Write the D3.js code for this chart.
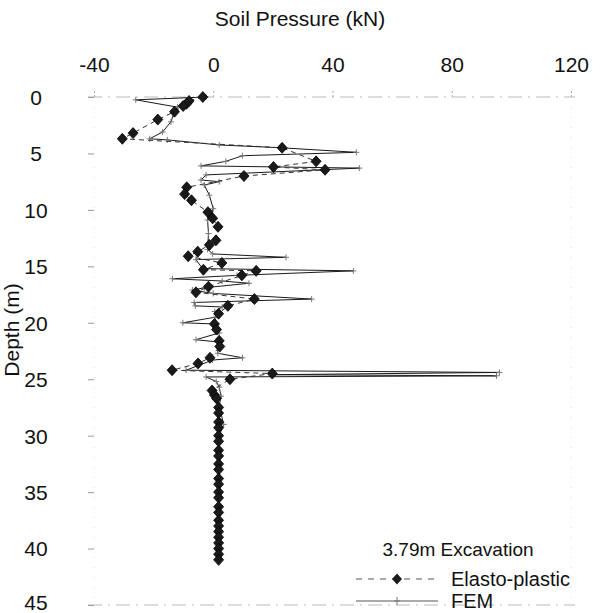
<!DOCTYPE html>
<html>
<head>
<meta charset="utf-8">
<script src="https://cdn.jsdelivr.net/npm/d3@7"></script>
<style>
  body { margin: 0; background: #fff; }
  text { font-family: "Liberation Sans", Arial, sans-serif; fill: #111; }
</style>
</head>
<body>
<div id="chart"></div>
<script>
// x ticks / y ticks
var pressureTicks = [-40, 0, 40, 80, 120];
var depthTicks = [0, 5, 10, 15, 20, 25, 30, 35, 40, 45];

// Elasto-plastic: depth (m) and soil pressure (kN)
var epDepth = [0.0, 0.35, 0.6, 0.8, 1.3, 2.0, 3.2, 3.7, 4.5, 5.7, 6.2, 6.45, 7.0, 8.0, 8.6, 9.15, 10.2, 10.75, 11.5, 12.7, 13.1, 13.7, 14.1, 14.7, 15.3, 15.4, 15.8, 16.8, 17.3, 17.9, 18.5, 19.2, 20.1, 20.6, 21.6, 22.1, 23.1, 23.6, 24.2, 24.5, 25.0, 26.0, 26.4, 26.7, 27.5, 28.0, 28.8, 29.3, 30.0, 30.5, 31.3, 31.8, 32.5, 33.0, 33.8, 34.3, 35.0, 35.5, 36.3, 36.8, 37.5, 38.0, 38.5, 39.0, 39.5, 40.0, 40.5, 41.0];
var epValue = [-3.5, -8.1, -9.0, -10.1, -13.0, -18.6, -26.9, -30.5, 23.1, 34.5, 20.2, 37.5, 10.3, -8.9, -9.6, -7.3, -1.8, -0.2, 1.6, 0.9, -1.3, -5.2, -8.4, 2.9, -3.3, 14.4, 9.6, -1.6, -5.8, 13.8, 4.9, 1.8, 0.4, 1.1, 2.0, 2.2, -1.1, -5.1, -13.8, 19.8, 5.6, -0.4, 0.4, 1.1, 1.8, 1.8, 1.8, 1.8, 1.8, 1.8, 1.8, 1.8, 1.8, 1.8, 1.8, 1.8, 1.8, 1.8, 1.8, 1.8, 1.8, 1.8, 1.8, 1.8, 1.8, 1.8, 1.8, 1.8];

// FEM: depth (m) and soil pressure (kN)
var femDepth = [0.0, 0.25, 0.9, 1.3, 2.2, 3.1, 3.7, 3.8, 4.25, 4.5, 4.9, 5.2, 5.7, 6.1, 6.3, 6.9, 7.35, 7.5, 7.8, 8.7, 9.9, 10.9, 12.1, 13.5, 13.9, 14.2, 14.4, 15.2, 15.4, 15.8, 16.1, 16.3, 16.5, 16.9, 17.1, 17.4, 17.9, 18.2, 18.5, 18.6, 19.0, 19.5, 20.0, 20.1, 20.9, 21.5, 21.7, 22.7, 23.1, 23.3, 24.2, 24.4, 24.6, 24.7, 24.8, 25.2, 25.7, 26.5, 27.4, 29.0, 30.0, 35.0, 41.0];
var femValue = [-2.5, -26.0, -12.0, -13.0, -14.2, -17.0, -21.3, -15.4, 2.0, 23.0, 48.0, 9.8, 4.2, -4.1, 49.0, -2.4, -4.1, 2.0, -3.0, -1.3, 0.0, -1.9, -1.6, -1.9, -0.2, 24.4, -5.8, -3.6, 47.0, 8.0, -13.7, 3.0, 12.0, -3.0, -7.0, 0.0, 33.0, -6.4, -6.0, 3.0, 0.5, 0.8, -10.2, 0.0, 2.0, -5.8, 1.5, 1.5, 9.8, -0.2, -9.1, 96.0, 20.0, 95.0, -2.4, 1.0, 2.0, 2.6, 2.0, 3.5, 2.0, 2.0, 2.0];

var legendTitle = "3.79m Excavation";
var seriesNames = ["Elasto-plastic", "FEM"];

var W = 604, H = 613;
var FONT = '"Liberation Sans", Arial, sans-serif';
var svg = d3.select('#chart').append('svg')
    .attr('width', W)
    .attr('height', H);

var x = d3.scaleLinear().domain([-40, 120]).range([94, 571]);
var y = d3.scaleLinear().domain([0, 45]).range([97, 605]);

// faint frame (scanned look)
var frame = svg.append('g')
    .attr('stroke', '#bbb')
    .attr('stroke-width', 1)
    .attr('stroke-dasharray', '14,6,2,6')
    .attr('fill', 'none');
frame.append('line').attr('x1', 88).attr('x2', 575).attr('y1', y(0)).attr('y2', y(0));
frame.append('line').attr('x1', 88).attr('x2', 575).attr('y1', y(45)).attr('y2', y(45));
frame.append('line').attr('x1', x(-40)).attr('x2', x(-40)).attr('y1', y(0)).attr('y2', y(45))
    .attr('stroke', '#ddd').attr('stroke-dasharray', '1,9');
frame.append('line').attr('x1', x(120)).attr('x2', x(120)).attr('y1', y(0)).attr('y2', y(45))
    .attr('stroke', '#ddd').attr('stroke-dasharray', '1,9');

// top axis
var xAxis = d3.axisTop(x).tickValues(pressureTicks).tickSize(8).tickPadding(17)
    .tickFormat(function(d) { return String(d); });
var gx = svg.append('g').attr('transform', 'translate(0,' + y(0) + ')').call(xAxis);
gx.select('.domain').remove();
gx.selectAll('.tick line').attr('stroke', '#aaa').attr('stroke-dasharray', '2,2');
gx.selectAll('.tick text').attr('font-size', 21).style('font-family', FONT).attr('fill', '#111');

// left axis
var yAxis = d3.axisLeft(y).tickValues(depthTicks).tickSize(6).tickPadding(0)
    .tickFormat(function(d) { return String(d); });
var gy = svg.append('g').attr('transform', 'translate(' + x(-40) + ',0)').call(yAxis);
gy.select('.domain').remove();
gy.selectAll('.tick line').attr('stroke', '#999');
gy.selectAll('.tick text')
    .attr('font-size', 21)
    .attr('text-anchor', 'middle')
    .attr('x', 36 - x(-40))
    .attr('dy', function(d) { return d === 45 ? '0.2em' : '0.35em'; })
    .style('font-family', FONT)
    .attr('fill', '#111');

// axis titles
svg.append('text')
    .attr('x', 300).attr('y', 26)
    .attr('text-anchor', 'middle')
    .attr('font-size', 21)
    .text('Soil Pressure (kN)');
svg.append('text')
    .attr('transform', 'translate(19,330) rotate(-90)')
    .attr('text-anchor', 'middle')
    .attr('font-size', 21)
    .text('Depth (m)');

var fem = femDepth.map(function(d, i) { return {d: d, v: femValue[i]}; });
var ep = epDepth.map(function(d, i) { return {d: d, v: epValue[i]}; });

var line = d3.line()
    .x(function(p) { return x(p.v); })
    .y(function(p) { return y(p.d); });

// FEM
svg.append('path')
    .datum(fem)
    .attr('d', line)
    .attr('fill', 'none')
    .attr('stroke', '#1a1a1a')
    .attr('stroke-width', 1);

svg.append('g').selectAll('path').data(fem).enter().append('path')
    .attr('transform', function(p) { return 'translate(' + x(p.v) + ',' + y(p.d) + ')'; })
    .attr('d', 'M-3,0H3M0,-3V3')
    .attr('stroke', '#777')
    .attr('stroke-width', 1);

// Elasto-plastic
svg.append('path')
    .datum(ep)
    .attr('d', line)
    .attr('fill', 'none')
    .attr('stroke', '#333')
    .attr('stroke-width', 1)
    .attr('stroke-dasharray', '5,4');

var diamond = 'M0,-5.5L5,0L0,5.5L-5,0Z';
svg.append('g').selectAll('path').data(ep).enter().append('path')
    .attr('transform', function(p) { return 'translate(' + x(p.v) + ',' + y(p.d) + ')'; })
    .attr('d', diamond)
    .attr('fill', '#1a1a1a')
    .attr('stroke', '#000')
    .attr('stroke-width', 0.8);

// legend
var lg = svg.append('g');
lg.append('text')
    .attr('x', 458).attr('y', 556)
    .attr('text-anchor', 'middle')
    .attr('font-size', 19)
    .text(legendTitle);

lg.append('line')
    .attr('x1', 356).attr('x2', 438).attr('y1', 579).attr('y2', 579)
    .attr('stroke', '#555').attr('stroke-dasharray', '6,6');
lg.append('path')
    .attr('transform', 'translate(397,579)')
    .attr('d', diamond)
    .attr('fill', '#1a1a1a');
lg.append('text')
    .attr('x', 451).attr('y', 586)
    .attr('font-size', 20)
    .text(seriesNames[0]);

lg.append('line')
    .attr('x1', 356).attr('x2', 438).attr('y1', 601).attr('y2', 601)
    .attr('stroke', '#555');
lg.append('path')
    .attr('transform', 'translate(397,601)')
    .attr('d', 'M-3,0H3M0,-4V4')
    .attr('stroke', '#777');
lg.append('text')
    .attr('x', 451).attr('y', 608)
    .attr('font-size', 20)
    .text(seriesNames[1]);
</script>
</body>
</html>
